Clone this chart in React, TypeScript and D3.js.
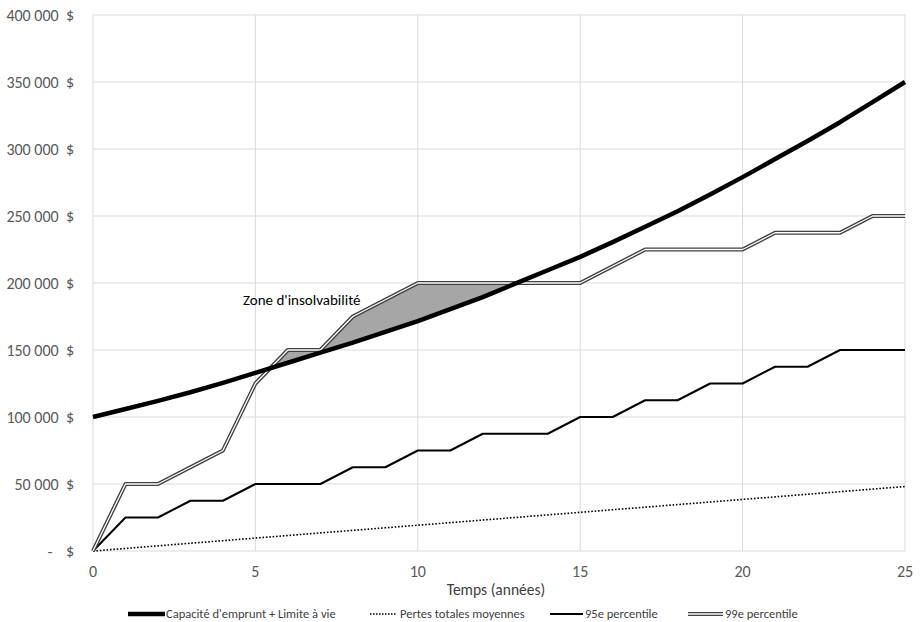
import React from "react";
import * as d3 from "d3";

const years = [0,1,2,3,4,5,6,7,8,9,10,11,12,13,14,15,16,17,18,19,20,21,22,23,24,25];
const capacity = [100000,106000,112000,118500,125500,133000,140500,148000,155500,163500,171500,180500,189500,199500,209500,219500,230500,242000,253500,266000,279000,292500,306000,320000,335000,350000];
const meanLoss = [0,1900,3850,5800,7700,9650,11550,13500,15400,17300,19250,21150,23100,25000,26950,28850,30800,32700,34650,36550,38500,40400,42350,44250,46200,48100];
const p95 = [0,25000,25000,37500,37500,50000,50000,50000,62500,62500,75000,75000,87500,87500,87500,100000,100000,112500,112500,125000,125000,137500,137500,150000,150000,150000];
const p99 = [0,50000,50000,62500,75000,125000,150000,150000,175000,187500,200000,200000,200000,200000,200000,200000,212500,225000,225000,225000,225000,237500,237500,237500,250000,250000];
const yTicks = [0,50000,100000,150000,200000,250000,300000,350000,400000];
const xTicks = [0,5,10,15,20,25];
const legendLabels = ["Capacité d'emprunt + Limite à vie","Pertes totales moyennes","95e percentile","99e percentile"];
const annotation = "Zone d'insolvabilité";
const xTitle = "Temps (années)";

const FONT = "Carlito, Calibri, 'Noto Sans', sans-serif";

export default function App() {
  const W = 920, H = 622;
  const x = d3.scaleLinear().domain([0, 25]).range([93, 905]);
  const y = d3.scaleLinear().domain([0, 400000]).range([551, 15]);

  const line = d3.line<[number, number]>().x(d => x(d[0])).y(d => y(d[1]));
  const pts = (arr: number[]) => years.map((t, i) => [t, arr[i]] as [number, number]);

  // insolvency zone: where p99 > capacity, with crossing points from data
  const zone: { t: number; lo: number; hi: number }[] = [];
  for (let i = 0; i < years.length; i++) {
    const d = p99[i] - capacity[i];
    if (i > 0) {
      const dp = p99[i - 1] - capacity[i - 1];
      if ((dp > 0) !== (d > 0) && dp !== 0 && d !== 0) {
        const f = dp / (dp - d);
        const t = years[i - 1] + f * (years[i] - years[i - 1]);
        const v = capacity[i - 1] + f * (capacity[i] - capacity[i - 1]);
        zone.push({ t, lo: v, hi: v });
      }
    }
    if (d > 0) zone.push({ t: years[i], lo: capacity[i], hi: p99[i] });
  }
  const area = d3.area<{ t: number; lo: number; hi: number }>()
    .x(d => x(d.t)).y0(d => y(d.lo)).y1(d => y(d.hi));

  const fmt = (v: number) => d3.format(",")(v).replace(/,/g, " ") + "  $";

  const legY = 614;
  const legItems = [
    { x1: 128, x2: 165, tx: 166 },
    { x1: 370, x2: 397, tx: 400 },
    { x1: 550, x2: 583, tx: 585 },
    { x1: 688, x2: 723, tx: 725 },
  ];

  const renderSample = (i: number, x1: number, x2: number) => {
    if (i === 0) return <line x1={x1} x2={x2} y1={legY} y2={legY} stroke="#000" strokeWidth={4.5} />;
    if (i === 1) return <line x1={x1} x2={x2} y1={legY} y2={legY} stroke="#000" strokeWidth={1.5} strokeDasharray="1.5,1.5" />;
    if (i === 2) return <line x1={x1} x2={x2} y1={legY} y2={legY} stroke="#000" strokeWidth={2} />;
    return <g>
      <line x1={x1} x2={x2} y1={legY} y2={legY} stroke="#404040" strokeWidth={4} />
      <line x1={x1} x2={x2} y1={legY} y2={legY} stroke="#fff" strokeWidth={1.3} />
    </g>;
  };

  return (
    <svg width={W} height={H} style={{ position: "absolute", left: 0, top: 0, background: "#fff" }} fontFamily={FONT}>
      <rect width={W} height={H} fill="#fff" />
      {yTicks.map(v => (
        <line key={"gy" + v} x1={93} x2={905} y1={y(v)} y2={y(v)} stroke="#d9d9d9" strokeWidth={1} />
      ))}
      {xTicks.map(v => (
        <line key={"gx" + v} x1={x(v)} x2={x(v)} y1={y(400000)} y2={y(0)} stroke="#d9d9d9" strokeWidth={1} />
      ))}
      {yTicks.map(v => (
        v === 0 ? (
          <g key={"ly" + v} fill="#595959" fontSize={16}>
            <text x={50} y={y(v)} dy="0.35em" textAnchor="middle">-</text>
            <text x={74} y={y(v)} dy="0.35em" textAnchor="end">$</text>
          </g>
        ) : (
          <text key={"ly" + v} x={74} y={y(v)} dy="0.35em" textAnchor="end" fill="#595959" fontSize={16} style={{ whiteSpace: "pre" }}>{fmt(v)}</text>
        )
      ))}
      {xTicks.map(v => (
        <text key={"lx" + v} x={x(v)} y={571} dy="0.35em" textAnchor="middle" fill="#595959" fontSize={16}>{v}</text>
      ))}
      <text x={496} y={590} dy="0.35em" textAnchor="middle" fill="#404040" fontSize={15.5}>{xTitle}</text>

      <path d={area(zone) || ""} fill="#a6a6a6" stroke="none" />

      <path d={line(pts(meanLoss)) || ""} fill="none" stroke="#000" strokeWidth={1.6} strokeDasharray="1.6,1.8" />
      <path d={line(pts(p95)) || ""} fill="none" stroke="#000" strokeWidth={2} strokeLinejoin="round" />
      <path d={line(pts(p99)) || ""} fill="none" stroke="#404040" strokeWidth={4} strokeLinejoin="round" />
      <path d={line(pts(p99)) || ""} fill="none" stroke="#fff" strokeWidth={1.3} strokeLinejoin="round" />
      <path d={line(pts(capacity)) || ""} fill="none" stroke="#000" strokeWidth={4.5} strokeLinejoin="round" />

      <text x={243} y={300} dy="0.35em" fill="#000" fontSize={15}>{annotation}</text>

      {legItems.map((it, i) => (
        <g key={"leg" + i}>
          {renderSample(i, it.x1, it.x2)}
          <text x={it.tx} y={legY} dy="0.35em" fill="#404040" fontSize={12.5}>{legendLabels[i]}</text>
        </g>
      ))}
    </svg>
  );
}
